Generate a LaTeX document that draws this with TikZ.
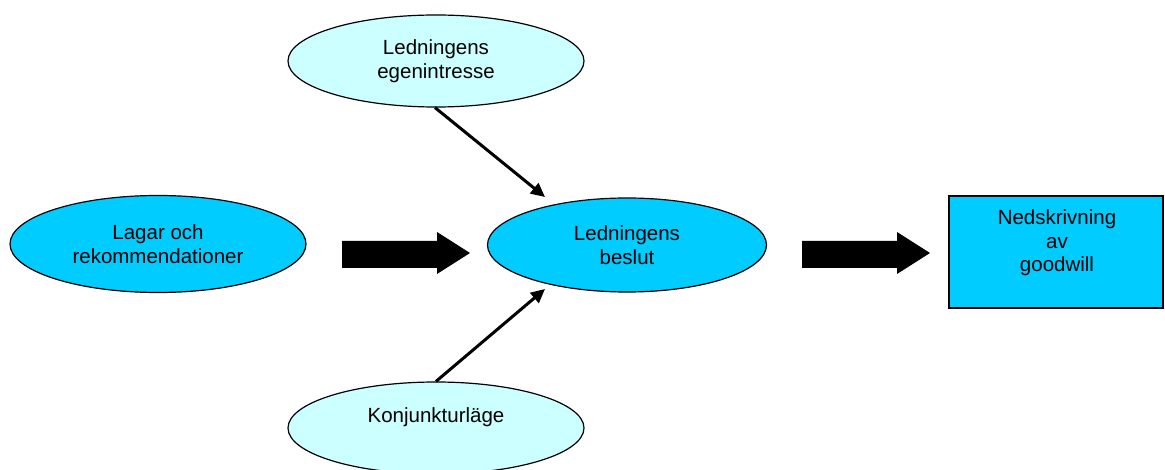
\documentclass[tikz,border=0pt]{standalone}
\usepackage{fontspec}
\setmainfont{Liberation Sans}
\usetikzlibrary{shapes.geometric,arrows.meta}
\definecolor{lightcyan}{HTML}{CCFFFF}
\definecolor{darkcyan}{HTML}{00CCFF}
\begin{document}
\begin{tikzpicture}[x=1pt,y=-1pt,
  txt/.style={font=\fontsize{20.5}{23.5}\selectfont,align=center},
  ell/.style={ellipse,draw=black,line width=1.2pt,inner sep=0pt,txt},
  thin/.style={line width=3pt,-{Triangle[length=14pt,width=13pt]}},
  block/.style={fill=black}]
\useasboundingbox (0,0) rectangle (1165,470);
\begin{scope}
\clip (0,0) rectangle (1165,470);
\node[ell,fill=lightcyan,minimum width=296pt,minimum height=92pt] (top) at (436,61) {Ledningens\\egenintresse};
\node[ell,fill=darkcyan,minimum width=296pt,minimum height=97pt] (law) at (158,244) {Lagar och\\rekommendationer};
\node[ell,fill=darkcyan,minimum width=279pt,minimum height=94pt] (mid) at (627,245) {Ledningens\\beslut};
\node[ell,fill=lightcyan,minimum width=296pt,minimum height=92pt] (bot) at (436,428) {};
\node[txt] (botlabel) at (436,417) {Konjunkturläge};
\node[draw=black,line width=1.5pt,fill=darkcyan,minimum width=214pt,minimum height=112pt,inner sep=0pt] (nd) at (1056,252) {};
\node[txt] (ndlabel) at (1057,243) {Nedskrivning\\av\\goodwill};
\end{scope}
\coordinate (t1) at (545,197);
\coordinate (b1) at (545,289);
\draw[thin] (top.south) ++(-1,0) -- (t1);
\draw[thin] (bot.north) -- (b1);
\fill[block] (342,241) -- (437,241) -- (437,232) -- (470,253) -- (437,274) -- (437,268) -- (342,268) -- cycle;
\fill[block] (802,241) -- (897,241) -- (897,232) -- (930,253) -- (897,274) -- (897,268) -- (802,268) -- cycle;
\end{tikzpicture}
\end{document}
